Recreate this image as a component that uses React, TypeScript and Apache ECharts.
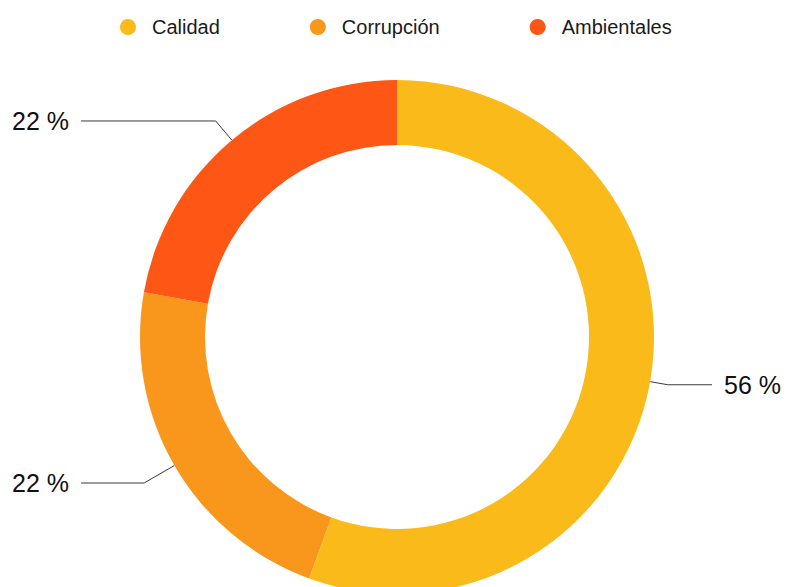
import React, { useEffect, useRef } from "react";
import * as echarts from "echarts";

const categories = ["Calidad", "Corrupción", "Ambientales"];
const counts = [5, 2, 2];
const colors = ["#F9BA1A", "#F9971C", "#FD5615"];
const labelEdgeDistances = [6, 12, 12];
const labelLineLengths = [18, 35, 25];

const FONT = "'Liberation Sans', Arial, Helvetica, sans-serif";

export default function App() {
  const ref = useRef<HTMLDivElement>(null);
  useEffect(() => {
    const chart = echarts.init(ref.current!, null, { renderer: "svg" });
    chart.setOption({
      animation: false,
      color: colors,
      legend: {
        top: 12,
        left: 115,
        itemWidth: 38,
        itemHeight: 16,
        itemGap: 90,
        icon: "circle",
        textStyle: { fontSize: 20, color: "#1a1a1a", fontFamily: FONT },
        data: categories,
      },
      series: [
        {
          type: "pie",
          center: [397, 337],
          radius: [192, 257],
          startAngle: 90,
          clockwise: true,
          percentPrecision: 0,
          avoidLabelOverlap: true,
          itemStyle: { borderWidth: 0 },
          label: {
            show: true,
            formatter: "{d} %",
            fontSize: 25,
            color: "#111",
            fontFamily: FONT,
            alignTo: "edge",
            edgeDistance: 12,
            distanceToLabelLine: 12,
          },
          labelLine: {
            show: true,
            length: 20,
            length2: 10,
            lineStyle: { color: "#3a3a3a", width: 1 },
          },
          emphasis: { disabled: true },
          data: categories.map((name, i) => ({
            name,
            value: counts[i],
            label: { edgeDistance: labelEdgeDistances[i] },
            labelLine: { length: labelLineLengths[i] },
          })),
        },
      ],
    });
    return () => chart.dispose();
  }, []);
  return (
    <div
      ref={ref}
      style={{ position: "absolute", left: 0, top: 0, width: 787, height: 587 }}
    />
  );
}
